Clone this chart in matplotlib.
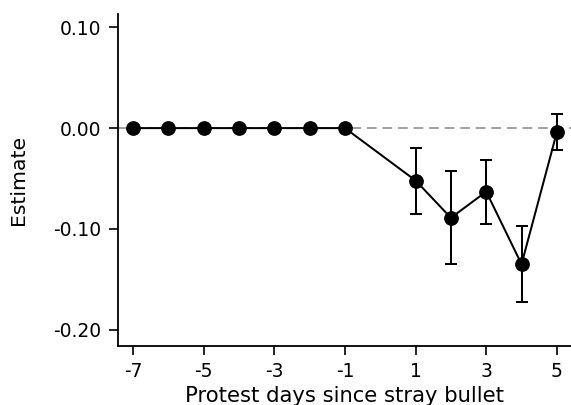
import matplotlib
matplotlib.use("Agg")
import matplotlib.pyplot as plt

plt.rcParams["font.family"] = ["DejaVu Sans"]

days = [-7, -6, -5, -4, -3, -2, -1, 1, 2, 3, 4, 5]
estimate = [0, 0, 0, 0, 0, 0, 0, -0.052, -0.089, -0.063, -0.135, -0.004]
ci_low = [0, 0, 0, 0, 0, 0, 0, -0.085, -0.135, -0.095, -0.172, -0.022]
ci_high = [0, 0, 0, 0, 0, 0, 0, -0.020, -0.043, -0.032, -0.097, 0.014]
xticks = [-7, -5, -3, -1, 1, 3, 5]
yticks = [0.10, 0.00, -0.10, -0.20]

fig = plt.figure(figsize=(5.71, 4.05), dpi=100)
ax = fig.add_axes([0.207, 0.146, 0.793, 0.819])

ax.axhline(0, color="#a0a0a0", lw=1.4, ls=(0, (5, 3)), zorder=1)
has_ci = [i for i in range(len(days)) if ci_low[i] != ci_high[i]]
ax.errorbar([days[i] for i in has_ci], [estimate[i] for i in has_ci],
            yerr=[[estimate[i] - ci_low[i] for i in has_ci],
                  [ci_high[i] - estimate[i] for i in has_ci]],
            fmt="none", ecolor="black", elinewidth=1.45, capsize=4,
            capthick=1.45, zorder=2)
ax.plot(days, estimate, color="black", lw=1.45, marker="o", ms=9.6, zorder=3)

ax.set_xlim(-7.42, 5.4)
ax.set_ylim(-0.216, 0.113)
ax.set_xticks(xticks)
ax.set_xticklabels([str(t) for t in xticks])
ax.set_yticks(yticks)
ax.set_yticklabels([f"{t:.2f}" for t in yticks])
for s in ["top", "right"]:
    ax.spines[s].set_visible(False)
for s in ["left", "bottom"]:
    ax.spines[s].set_linewidth(1.3)
ax.tick_params(direction="out", length=6.5, width=1.2, labelsize=13.5)
ax.tick_params(axis="x", pad=5)
ax.tick_params(axis="y", pad=5.5)
ax.set_ylabel("Estimate", fontsize=14.7, labelpad=18)
ax.set_xlabel("Protest days since stray bullet", fontsize=15.2, labelpad=4)

fig.savefig("out.png", dpi=100)
